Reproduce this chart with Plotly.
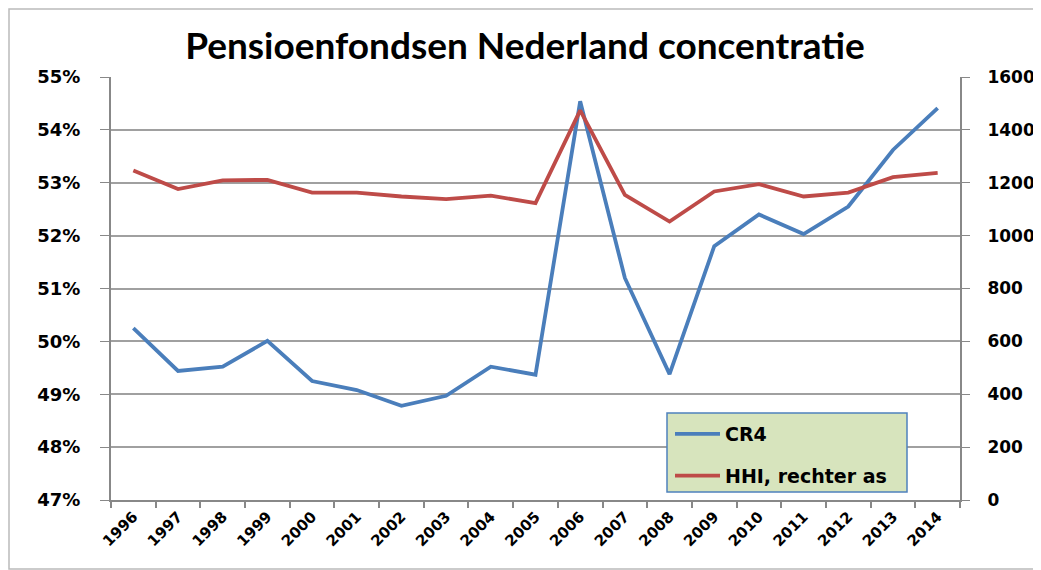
import plotly.graph_objects as go

years = [str(y) for y in range(1996, 2015)]
cr4 = [50.25, 49.44, 49.52, 50.01, 49.25, 49.08, 48.78, 48.97, 49.52, 49.37,
       54.54, 51.20, 49.38, 51.80, 52.40, 52.03, 52.55, 53.62, 54.41]
hhi = [1246, 1176, 1209, 1211, 1163, 1163, 1148, 1138, 1151, 1123,
       1474, 1154, 1053, 1167, 1195, 1148, 1163, 1221, 1237]
left_ticks = [0.47 + 0.01 * i for i in range(9)]
right_ticks = list(range(0, 1601, 200))

OFF = 8  # page body margin
W, H = 1041 - OFF, 570 - OFF
L, T = 111 - OFF, 77 - OFF
pw, ph = 849, 423
R, B = W - L - pw, H - T - ph

def px(x):  # reference pixel -> paper
    return (x - OFF - L) / pw

def py(y):
    return (T + ph - (y - OFF)) / ph

title_font = "Lato, 'Open Sans', sans-serif"
tick_font = "'DejaVu Sans', Verdana, sans-serif"

fig = go.Figure()
fig.add_trace(go.Scatter(x=years, y=[v / 100 for v in cr4], name="<b>CR4</b>", mode="lines",
                         line=dict(color="#4A7EBB", width=3.8), legendgroup="a"))
fig.add_trace(go.Scatter(x=years, y=hhi, name="<b>HHI, rechter as</b>", mode="lines",
                         line=dict(color="#BE4B48", width=3.8), yaxis="y2", legendgroup="b"))

axis_col = "#888888"
fig.update_layout(
    width=W, height=H,
    margin=dict(l=L, r=R, t=T, b=B, autoexpand=False),
    paper_bgcolor="white", plot_bgcolor="white",
    title=dict(text="<b>Pensioenfondsen Nederland concentratie</b>", x=(525 - OFF) / W, xanchor="center",
               y=1 - (46 - OFF) / H, yanchor="middle",
               font=dict(family=title_font, size=37, color="black")),
    font=dict(family=tick_font, color="black"),
    xaxis=dict(type="category", range=[-0.5, len(years) - 0.5], showgrid=False, showline=True,
               linecolor=axis_col, linewidth=2,
               ticks="outside", tickson="boundaries", ticklen=6, tickcolor=axis_col, tickwidth=1.5,
               tickangle=-45, tickfont=dict(size=15, family=tick_font, weight="bold")),
    yaxis=dict(range=[0.47, 0.55], tickvals=left_ticks, tickformat=".0%", showgrid=True,
               gridcolor="#A0A0A0", gridwidth=1.5, showline=True, linecolor=axis_col, linewidth=2,
               ticks="outside", ticklen=9, tickcolor=axis_col, zeroline=False, ticklabelstandoff=16,
               tickfont=dict(size=18, family=tick_font, weight="bold")),
    yaxis2=dict(range=[0, 1600], tickvals=right_ticks, overlaying="y", side="right",
                showgrid=False, showline=True, linecolor=axis_col, linewidth=2,
                ticks="outside", ticklen=8, tickcolor=axis_col, zeroline=False, ticklabelstandoff=14,
                tickfont=dict(size=17, family=tick_font, weight="bold")),
    legend=dict(x=px(670), y=py(415), xanchor="left", yanchor="top", itemwidth=45,
                bgcolor="rgba(0,0,0,0)", borderwidth=0, traceorder="grouped",
                tracegroupgap=14, font=dict(size=19, family=tick_font)),
    showlegend=True,
    shapes=[
        dict(type="rect", xref="paper", yref="paper", x0=px(667), x1=px(907), y0=py(413), y1=py(492),
             fillcolor="#D7E4BD", line=dict(color="#4F81BD", width=1.5), layer="above"),
        dict(type="rect", xref="paper", yref="paper", x0=px(9), x1=px(1040), y0=py(9), y1=py(569),
             fillcolor="rgba(0,0,0,0)", line=dict(color="#BBBBBB", width=1.5), layer="below"),
    ],
)

fig.write_html("out.html")
